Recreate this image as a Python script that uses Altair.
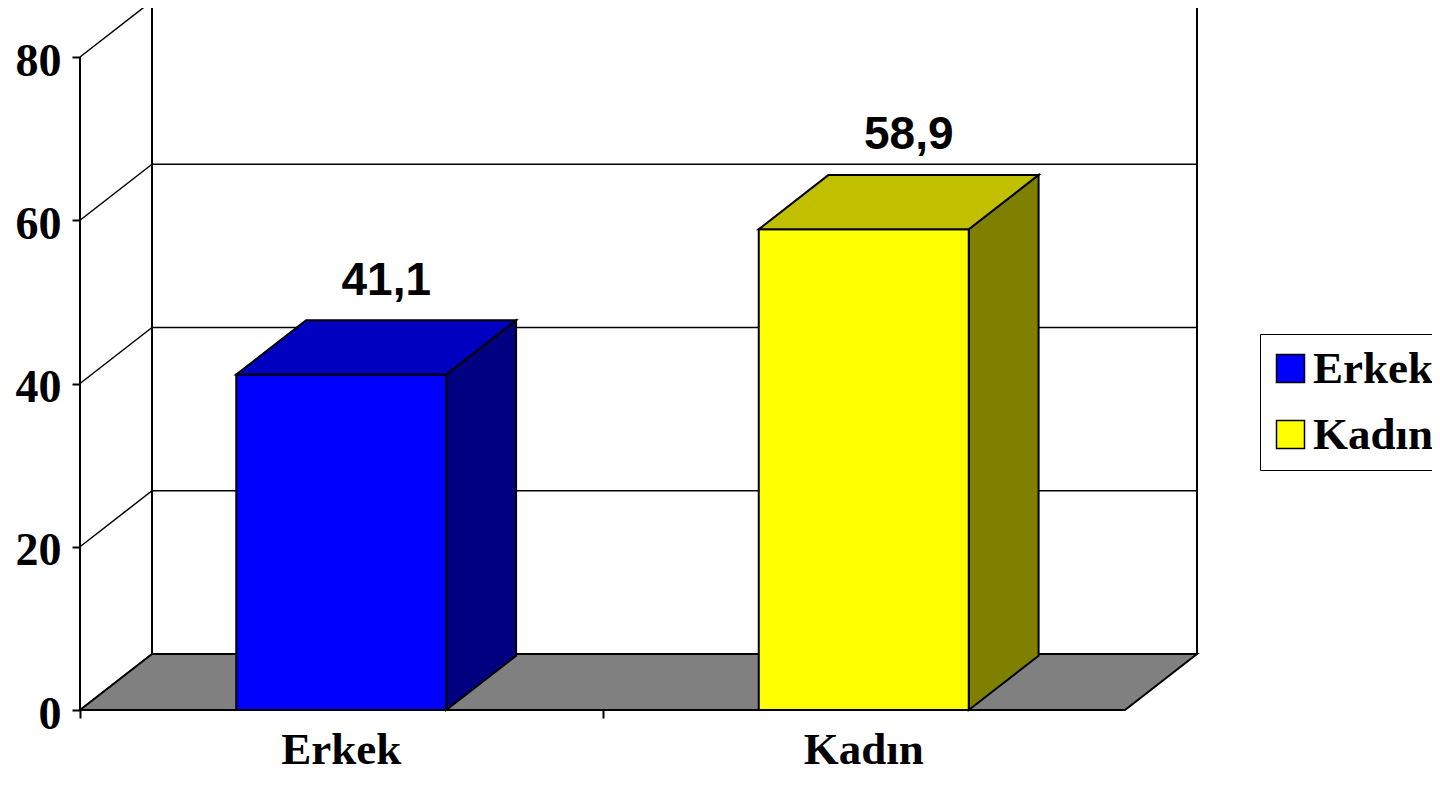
import altair as alt
import pandas as pd

# ---------------- data ----------------
categories = ["Erkek", "Kadın"]
values = [41.1, 58.9]
front_colors = ["#0000FF", "#FFFF00"]
top_colors = ["#0000C0", "#C0C000"]
side_colors = ["#000080", "#808000"]
y_ticks = [0, 20, 40, 60, 80]
grid_values = [20, 40, 60]
x_tick_values = [0, 1]
Y_MAX = 80

# ---------------- layout / style (pixels) ----------------
FRONT_W = 1045          # width of the front plane
PLOT_H = 702            # plot height
PX_PER_UNIT = 653 / 80  # vertical pixels per value unit
DEPTH_X = 72            # 3D depth offset (px)
DEPTH_Y = 56
BAR_W = 210
BAR_DEPTH = 0.97

n = len(categories)
px_cat = FRONT_W / n
dxu = DEPTH_X / px_cat
dyu = DEPTH_Y / PX_PER_UNIT
bw = BAR_W / px_cat
bdx = dxu * BAR_DEPTH
bdy = dyu * BAR_DEPTH
W = FRONT_W + DEPTH_X

xs = alt.Scale(domain=[0, n + dxu], nice=False, zero=False)
ys = alt.Scale(domain=[0, PLOT_H / PX_PER_UNIT], nice=False, zero=False)

y_axis = alt.Axis(values=y_ticks, domain=False, grid=False, tickSize=8, tickWidth=2,
                  tickColor="black", labelFont="Liberation Serif", labelFontWeight="bold",
                  labelFontSize=46, labelColor="black", labelPadding=11, labelOffset=4,
                  title=None)
x_axis = alt.Axis(values=x_tick_values, domain=False, grid=False, labels=False,
                  tickSize=8, tickWidth=2, tickColor="black", title=None)


def X(f):
    return alt.X(f"{f}:Q", scale=xs, axis=x_axis, stack=None, title=None)


def Y(f):
    return alt.Y(f"{f}:Q", scale=ys, axis=y_axis, stack=None, title=None)


# ---------------- derived tables ----------------
centers = [i + 0.5 for i in range(n)]
bars = pd.DataFrame({
    "cat": categories, "value": values, "c": centers,
    "front": front_colors, "top": top_colors, "side": side_colors,
})
bars["x0"] = bars["c"] - bw / 2
bars["x1"] = bars["c"] + bw / 2
bars["base"] = 0.0

side_rows, top_rows = [], []
for rec in bars.to_dict("records"):
    side_rows.append({"cat": rec["cat"], "fillc": rec["side"], "x": rec["x1"], "y": 0.0, "y2": rec["value"]})
    side_rows.append({"cat": rec["cat"], "fillc": rec["side"], "x": rec["x1"] + bdx, "y": bdy,
                      "y2": rec["value"] + bdy})
    top_rows.append({"cat": rec["cat"], "fillc": rec["top"], "y": rec["value"], "x": rec["x0"], "x2": rec["x1"]})
    top_rows.append({"cat": rec["cat"], "fillc": rec["top"], "y": rec["value"] + bdy,
                     "x": rec["x0"] + bdx, "x2": rec["x1"] + bdx})
sides = pd.DataFrame(side_rows)
tops = pd.DataFrame(top_rows)

wall = pd.DataFrame({"x": [dxu], "x2": [n + dxu], "y": [dyu], "y2": [Y_MAX + dyu]})
grid = pd.DataFrame({"v": grid_values})
grid["x"] = dxu
grid["x2"] = n + dxu
grid["y"] = grid["v"] + dyu
slants = pd.DataFrame({"v": y_ticks})
slants["x"] = 0.0
slants["x2"] = dxu
slants["y"] = slants["v"]
slants["y2"] = slants["v"] + dyu
yline = pd.DataFrame({"x": [0.0], "y": [0.0], "y2": [float(Y_MAX)]})
floor = pd.DataFrame({"y": [0.0, dyu], "x": [0.0, dxu], "x2": [float(n), n + dxu]})

# ---------------- layers ----------------
back_wall = alt.Chart(wall).mark_rect(fill="white", stroke="black", strokeWidth=2).encode(
    x=X("x"), x2="x2", y=Y("y"), y2="y2")

back_grid = alt.Chart(grid).mark_rule(color="black", strokeWidth=1.5).encode(
    x=X("x"), x2="x2", y=Y("y"))

left_slants = alt.Chart(slants).mark_rule(color="black", strokeWidth=1.5).encode(
    x=X("x"), x2="x2", y=Y("y"), y2="y2")

y_line = alt.Chart(yline).mark_rule(color="black", strokeWidth=2).encode(
    x=X("x"), y=Y("y"), y2="y2")

floor_layer = alt.Chart(floor).mark_area(orient="horizontal", fill="#808080", stroke="black",
                                         strokeWidth=2).encode(
    y=Y("y"), x=X("x"), x2="x2")

side_layer = alt.Chart(sides).mark_area(orient="vertical", stroke="black", strokeWidth=2).encode(
    x=X("x"), y=Y("y"), y2="y2", fill=alt.Fill("fillc:N", scale=None), detail="cat:N")

legend = alt.Legend(title=None, orient="none", legendX=1180, legendY=326, padding=12,
                    strokeColor="black", symbolType="square", symbolSize=784,
                    symbolStrokeColor="black", symbolStrokeWidth=1.5, symbolOffset=-4,
                    labelFont="Liberation Serif", labelFontWeight="bold", labelFontSize=45,
                    labelColor="black", labelOffset=0, rowPadding=20)
front_layer = alt.Chart(bars).mark_rect(stroke="black", strokeWidth=2).encode(
    x=X("x0"), x2="x1", y=Y("base"), y2="value",
    color=alt.Color("cat:N", scale=alt.Scale(domain=categories, range=front_colors),
                    legend=legend))

top_layer = alt.Chart(tops).mark_area(orient="horizontal", stroke="black", strokeWidth=2).encode(
    y=Y("y"), x=X("x"), x2="x2", fill=alt.Fill("fillc:N", scale=None), detail="cat:N")

value_labels = alt.Chart(bars).transform_calculate(
    label="replace(format(datum.value, '.1f'), '.', ',')"
).mark_text(font="Liberation Sans", fontWeight="bold", fontSize=46, color="black",
            align="center", baseline="alphabetic", dx=45, dy=-80).encode(
    x=X("c"), y=Y("value"), text="label:N")

cat_labels = alt.Chart(bars).mark_text(font="Liberation Serif", fontWeight="bold", fontSize=45,
                                       color="black", align="center", baseline="alphabetic",
                                       dy=54).encode(
    x=X("c"), y=Y("base"), text="cat:N")

chart = alt.layer(
    back_wall, back_grid, left_slants, y_line, floor_layer,
    side_layer, front_layer, top_layer, value_labels, cat_labels
).properties(
    width=W, height=PLOT_H,
    autosize=alt.AutoSizeParams(type="none"),
    padding={"left": 72, "top": 0, "right": 235, "bottom": 64},
    background="white",
).configure_view(stroke=None)

chart.save("out.html", embed_options={"renderer": "svg", "actions": False})
